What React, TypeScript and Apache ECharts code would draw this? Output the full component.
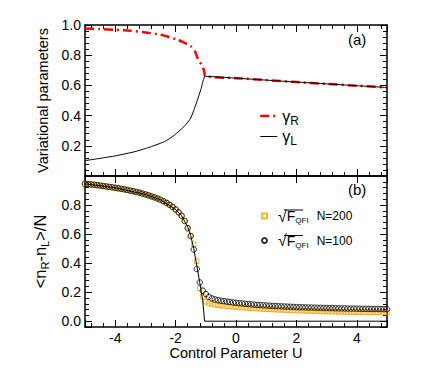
import React, { useEffect, useRef } from "react";
import * as echarts from "echarts";

// ---------- data ----------
const gammaRU = [-5, -4.5, -4, -3.5, -3, -2.5, -2, -1.75, -1.5, -1.35, -1.26, -1.15, -1.09, -1.05, -1.02, 0, 1, 2, 3, 4, 5];
const gammaR = [0.976, 0.973, 0.968, 0.962, 0.951, 0.935, 0.907, 0.886, 0.86, 0.822, 0.775, 0.74, 0.715, 0.69, 0.66, 0.648, 0.635, 0.622, 0.61, 0.598, 0.586];

const gammaLU = [-5, -4.5, -4, -3.35, -3, -2.8, -2.36, -2.03, -1.7, -1.5, -1.31, -1.15, -1.02, 0, 1, 2, 3, 4, 5];
const gammaL = [0.102, 0.117, 0.133, 0.161, 0.182, 0.195, 0.228, 0.272, 0.332, 0.383, 0.483, 0.582, 0.66, 0.648, 0.635, 0.622, 0.61, 0.598, 0.586];

const meanFieldU = [-5, -4, -3, -2.5, -2, -1.8, -1.6, -1.5, -1.4, -1.3, -1.2, -1.1, -1.04, 5];
const meanField = [0.946, 0.919, 0.873, 0.836, 0.77, 0.726, 0.65, 0.59, 0.5, 0.385, 0.265, 0.14, 0, 0];

const uGrid = [
  -5, -4.9, -4.8, -4.7, -4.6, -4.5, -4.4, -4.3, -4.2, -4.1,
  -4, -3.9, -3.8, -3.7, -3.6, -3.5, -3.4, -3.3, -3.2, -3.1,
  -3, -2.9, -2.8, -2.7, -2.6, -2.5, -2.4, -2.3, -2.2, -2.1,
  -2, -1.9, -1.8, -1.7, -1.6, -1.5, -1.4, -1.3, -1.2, -1.1,
  -1, -0.9, -0.8, -0.7, -0.6, -0.5, -0.4, -0.3, -0.2, -0.1,
  0, 0.1, 0.2, 0.3, 0.4, 0.5, 0.6, 0.7, 0.8, 0.9,
  1, 1.1, 1.2, 1.3, 1.4, 1.5, 1.6, 1.7, 1.8, 1.9,
  2, 2.1, 2.2, 2.3, 2.4, 2.5, 2.6, 2.7, 2.8, 2.9,
  3, 3.1, 3.2, 3.3, 3.4, 3.5, 3.6, 3.7, 3.8, 3.9,
  4, 4.1, 4.2, 4.3, 4.4, 4.5, 4.6, 4.7, 4.8, 4.9,
  5,
];

const qfiN100 = [
  0.946, 0.944, 0.942, 0.94, 0.937, 0.934, 0.931, 0.928, 0.925, 0.922,
  0.919, 0.915, 0.912, 0.908, 0.904, 0.899, 0.895, 0.89, 0.885, 0.879,
  0.873, 0.867, 0.86, 0.853, 0.845, 0.836, 0.826, 0.815, 0.802, 0.787,
  0.77, 0.75, 0.726, 0.69, 0.64, 0.586, 0.494, 0.36, 0.267, 0.21,
  0.187, 0.168, 0.157, 0.15, 0.145, 0.141, 0.138, 0.135, 0.132, 0.129,
  0.127, 0.124, 0.122, 0.12, 0.118, 0.116, 0.114, 0.112, 0.111, 0.109,
  0.108, 0.107, 0.105, 0.104, 0.103, 0.102, 0.101, 0.1, 0.099, 0.098,
  0.097, 0.096, 0.096, 0.095, 0.094, 0.094, 0.093, 0.092, 0.092, 0.091,
  0.091, 0.09, 0.09, 0.089, 0.089, 0.088, 0.088, 0.087, 0.087, 0.087,
  0.086, 0.086, 0.085, 0.085, 0.085, 0.084, 0.084, 0.084, 0.083, 0.083,
  0.083,
];

const qfiN200 = [
  0.946, 0.944, 0.942, 0.94, 0.937, 0.934, 0.931, 0.928, 0.925, 0.922,
  0.919, 0.915, 0.912, 0.908, 0.904, 0.899, 0.895, 0.89, 0.885, 0.879,
  0.873, 0.867, 0.86, 0.853, 0.845, 0.836, 0.826, 0.815, 0.802, 0.787,
  0.77, 0.75, 0.726, 0.69, 0.645, 0.59, 0.529, 0.413, 0.227, 0.169,
  0.134, 0.123, 0.117, 0.113, 0.109, 0.107, 0.105, 0.103, 0.101, 0.099,
  0.097, 0.095, 0.094, 0.092, 0.091, 0.089, 0.088, 0.087, 0.085, 0.084,
  0.083, 0.082, 0.081, 0.08, 0.079, 0.078, 0.077, 0.076, 0.075, 0.074,
  0.073, 0.072, 0.072, 0.071, 0.07, 0.07, 0.069, 0.068, 0.068, 0.067,
  0.067, 0.066, 0.066, 0.065, 0.065, 0.064, 0.064, 0.063, 0.063, 0.063,
  0.062, 0.062, 0.062, 0.061, 0.061, 0.061, 0.061, 0.06, 0.06, 0.06,
  0.06,
];

const zip = (xs: number[], ys: number[]) => xs.map((x, i) => [x, ys[i]]);

const FONT = "'Liberation Sans', Arial, sans-serif";
const ORANGE = "#f7a400";

export default function App() {
  const ref = useRef<HTMLDivElement>(null);

  useEffect(() => {
    if (!ref.current) return;
    const chart = echarts.init(ref.current, null, { renderer: "svg" });

    const axisLine = { show: true, onZero: false, lineStyle: { color: "#000", width: 1.5 } };
    const tick = { show: true, inside: true, length: 7, lineStyle: { color: "#000", width: 1 } };
    const minor = { show: true, splitNumber: 5, length: 4, lineStyle: { color: "#000", width: 1 } };
    const noLabel = { show: false };
    const xBase = { type: "value", min: -5, max: 5, minInterval: 2, maxInterval: 2, splitLine: { show: false }, axisLine, axisTick: tick, minorTick: minor };
    const labelStyle = { color: "#000", fontSize: 14, fontFamily: FONT };
    const redLine = { color: "#ff0000", width: 2.5, type: [9, 4, 2, 4] };
    const blackLine = { color: "#000", width: 1, type: "solid" };

    const option: any = {
      animation: false,
      backgroundColor: "#fff",
      textStyle: { fontFamily: FONT },
      grid: [
        { left: 85, top: 25, width: 302, height: 151 },
        { left: 85, top: 176, width: 302, height: 151 },
      ],
      xAxis: [
        { ...xBase, gridIndex: 0, position: "bottom", axisLabel: noLabel },
        { ...xBase, gridIndex: 0, position: "top", axisLabel: noLabel },
        {
          ...xBase, gridIndex: 1, position: "bottom",
          axisLabel: { ...labelStyle, margin: 4, showMinLabel: false, showMaxLabel: false },
          name: "Control Parameter U", nameLocation: "middle", nameGap: 17,
          nameTextStyle: { color: "#000", fontSize: 14.5, fontFamily: FONT },
        },
        { ...xBase, gridIndex: 1, position: "top", axisLabel: noLabel, minorTick: { show: false } },
      ],
      yAxis: [
        {
          type: "value", gridIndex: 0, position: "left", min: 0, max: 1, interval: 0.2,
          splitLine: { show: false }, axisLine, axisTick: tick, minorTick: minor,
          axisLabel: { ...labelStyle, margin: 4, showMinLabel: false, formatter: (v: number) => v.toFixed(1) },
          name: "Variational parameters", nameLocation: "middle", nameGap: 30,
          nameTextStyle: { color: "#000", fontSize: 14.5, fontFamily: FONT },
        },
        {
          type: "value", gridIndex: 0, position: "right", min: 0, max: 1, interval: 0.2,
          splitLine: { show: false }, axisLine, axisTick: tick, minorTick: minor, axisLabel: noLabel,
        },
        {
          type: "value", gridIndex: 1, position: "left", min: -0.04, max: 1, minInterval: 0.2, maxInterval: 0.2,
          splitLine: { show: false }, axisLine, axisTick: tick, minorTick: minor,
          axisLabel: { ...labelStyle, margin: 4, showMinLabel: false, showMaxLabel: false, formatter: (v: number) => v.toFixed(1) },
          name: "{t|<n}{s|R}{t|-n}{s|L}{t|>/N}", nameLocation: "middle", nameGap: 26,
          nameTextStyle: {
            color: "#000", fontFamily: FONT,
            rich: {
              t: { fontSize: 16.5, color: "#000", fontFamily: FONT },
              s: { fontSize: 11, color: "#000", fontFamily: FONT, padding: [11, 0, 0, 0] },
            },
          },
        },
        {
          type: "value", gridIndex: 1, position: "right", min: -0.04, max: 1, minInterval: 0.2, maxInterval: 0.2,
          splitLine: { show: false }, axisLine, axisTick: tick, minorTick: minor, axisLabel: noLabel,
        },
      ],
      legend: [
        {
          data: [
            { name: "γR", lineStyle: redLine },
            { name: "γL", lineStyle: blackLine },
          ],
          orient: "vertical", left: 259, top: 108, padding: 0,
          itemWidth: 17, itemHeight: 8, itemGap: 2, selectedMode: false,
          itemStyle: { opacity: 0 },
          formatter: (n: string) => (n === "γR" ? "{g|γ}{s|R}" : "{g|γ}{s|L}"),
          textStyle: {
            rich: {
              g: { fontSize: 16, color: "#000", fontFamily: FONT },
              s: { fontSize: 12, color: "#000", fontFamily: FONT, padding: [9, 0, 0, 0] },
            },
          },
        },
        {
          data: ["N=200", "N=100"], orient: "vertical", left: 261, top: 208, padding: 0,
          itemWidth: 5, itemHeight: 5, itemGap: 8, selectedMode: false,
          formatter: (n: string) => `{r|√}{f|F}{s|QFI}{t|${n}}`,
          textStyle: {
            rich: {
              r: { fontSize: 16, color: "#000", fontFamily: FONT, padding: [0, 0, 0, 6] },
              f: { fontSize: 14, color: "#000", fontFamily: FONT },
              s: { fontSize: 8, color: "#000", fontFamily: FONT, padding: [9, 0, 0, 0] },
              t: { fontSize: 12, color: "#000", fontFamily: FONT, padding: [0, 0, 0, 8] },
            },
          },
        },
      ],
      graphic: [
        { type: "text", left: 348, top: 32, style: { text: "(a)", fontSize: 15, fill: "#000", fontFamily: FONT } },
        { type: "text", left: 348, top: 182, style: { text: "(b)", fontSize: 15, fill: "#000", fontFamily: FONT } },
        { type: "line", shape: { x1: 284, y1: 210, x2: 303, y2: 210 }, style: { stroke: "#000", lineWidth: 1 } },
        { type: "line", shape: { x1: 284, y1: 235.5, x2: 303, y2: 235.5 }, style: { stroke: "#000", lineWidth: 1 } },
      ],
      series: [
        {
          name: "γR", type: "line", xAxisIndex: 0, yAxisIndex: 0, data: zip(gammaRU, gammaR),
          symbol: "none", smooth: 0.2, lineStyle: redLine, itemStyle: { color: "#ff0000" },
        },
        {
          name: "γL", type: "line", xAxisIndex: 0, yAxisIndex: 0, data: zip(gammaLU, gammaL),
          symbol: "none", smooth: 0.15, lineStyle: blackLine, itemStyle: { color: "#000" },
        },
        {
          name: "meanField", type: "line", xAxisIndex: 2, yAxisIndex: 2, data: zip(meanFieldU, meanField),
          symbol: "none", lineStyle: blackLine, itemStyle: { color: "#000" },
        },
        {
          name: "N=200", type: "scatter", xAxisIndex: 2, yAxisIndex: 2, data: zip(uGrid, qfiN200),
          symbol: "rect", symbolSize: 4.5,
          itemStyle: { color: "rgba(255,255,255,0)", borderColor: ORANGE, borderWidth: 1 },
        },
        {
          name: "N=100", type: "scatter", xAxisIndex: 2, yAxisIndex: 2, data: zip(uGrid, qfiN100),
          symbol: "circle", symbolSize: 5.5,
          itemStyle: { color: "rgba(255,255,255,0)", borderColor: "#000", borderWidth: 1 },
        },
      ],
    };

    chart.setOption(option);
    return () => chart.dispose();
  }, []);

  return <div ref={ref} style={{ position: "absolute", left: 0, top: 0, width: 431, height: 378 }} />;
}
